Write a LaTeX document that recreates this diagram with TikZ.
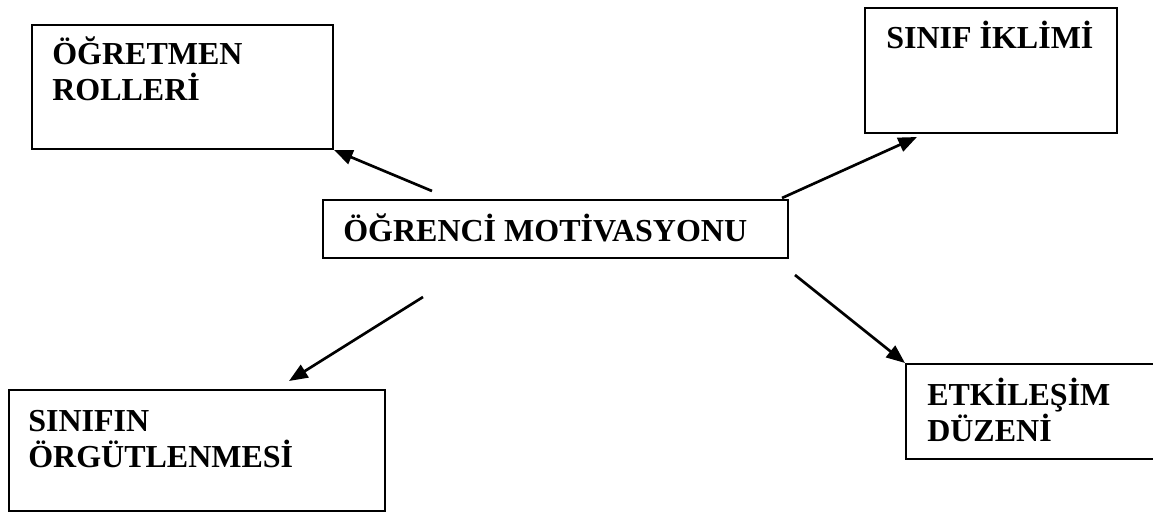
\documentclass[tikz,border=0pt]{standalone}
\usepackage{fontspec}
\setmainfont{Liberation Serif}
\usetikzlibrary{arrows.meta,positioning}
\begin{document}
\begin{tikzpicture}[x=0.75pt,y=-0.75pt,
    kutu/.style={draw,line width=1.5pt,rectangle,inner sep=0pt,anchor=north west},
    yazi/.style={anchor=base west,inner sep=0pt,align=left,font=\fontsize{24}{27}\selectfont\bfseries},
    ok/.style={line width=2pt,-{Triangle[length=14pt,width=11pt]}}]
  \useasboundingbox (0,0) rectangle (1153,514);
  \node[kutu,minimum width=225.75pt,minimum height=93pt] (rol) at (31,24) {};
  \node[kutu,minimum width=189pt,minimum height=93.75pt] (iklim) at (864,7) {};
  \node[kutu,minimum width=348.75pt,minimum height=43.5pt] (mot) at (322,199) {};
  \node[kutu,minimum width=282pt,minimum height=90.75pt] (org) at (8,389) {};
  \node[kutu,minimum width=195pt,minimum height=71.25pt] (etk) at (905,363) {};
  \node[yazi] (rolY) at ([shift={(21,76)}]rol.north west) {ÖĞRETMEN\\ROLLERİ};
  \node[yazi] (iklimY) at ([shift={(22,41)}]iklim.north west) {SINIF İKLİMİ};
  \node[yazi] (motY) at ([shift={(21,42)}]mot.north west) {ÖĞRENCİ MOTİVASYONU};
  \node[yazi] (orgY) at ([shift={(20,78)}]org.north west) {SINIFIN\\ÖRGÜTLENMESİ};
  \node[yazi] (etkY) at ([shift={(22,78)}]etk.north west) {ETKİLEŞİM\\DÜZENİ};
  \coordinate (a) at ([shift={(110,-8)}]mot.north west);
  \coordinate (b) at ([shift={(-7,-1)}]mot.north east);
  \coordinate (c) at ([shift={(101,38)}]mot.south west);
  \coordinate (d) at ([shift={(6,16)}]mot.south east);
  \draw[ok] (a) -- (rol.south east);
  \draw[ok] (b) -- ([shift={(53,3)}]iklim.south west);
  \draw[ok] (c) -- ([shift={(281,-8)}]org.north west);
  \draw[ok] (d) -- (etk.north west);
\end{tikzpicture}
\end{document}
